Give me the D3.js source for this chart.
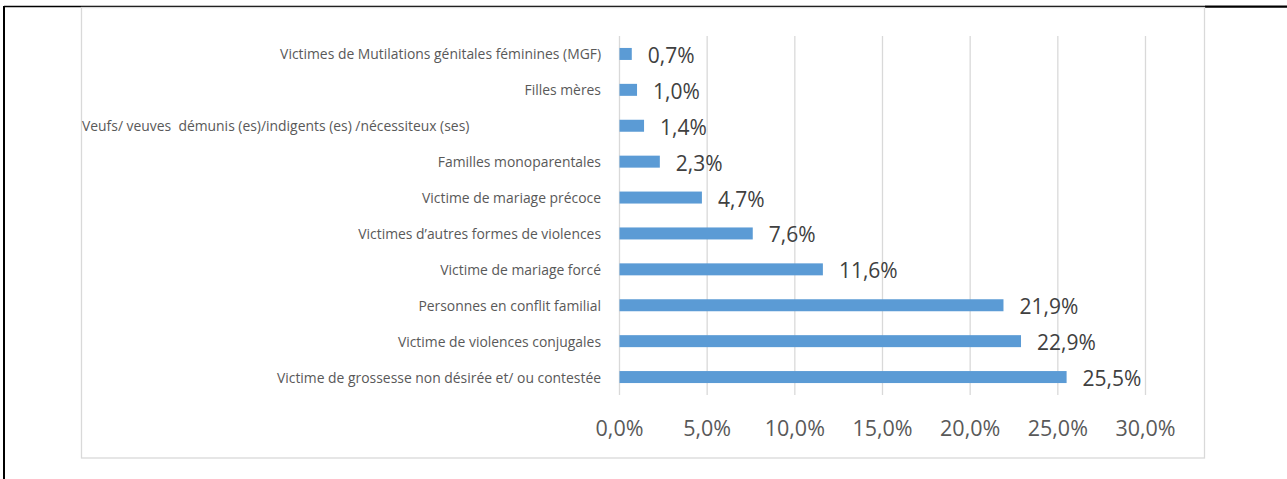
<!DOCTYPE html>
<html>
<head>
<meta charset="utf-8">
<script src="https://cdn.jsdelivr.net/npm/d3@7"></script>
<style>
  html, body { margin: 0; padding: 0; background: #fff; }
  svg { display: block; font-family: "Open Sans", "Liberation Sans", sans-serif; }
</style>
</head>
<body>
<div id="chart"></div>
<script>
// --- Data ---
const categories = [
  "Victimes de Mutilations génitales féminines (MGF)",
  "Filles mères",
  "Veufs/ veuves  démunis (es)/indigents (es) /nécessiteux (ses)",
  "Familles monoparentales",
  "Victime de mariage précoce",
  "Victimes d\u2019autres formes de violences",
  "Victime de mariage forcé",
  "Personnes en conflit familial",
  "Victime de violences conjugales",
  "Victime de grossesse non désirée et/ ou contestée"
];
const values = [0.007, 0.010, 0.014, 0.023, 0.047, 0.076, 0.116, 0.219, 0.229, 0.255];
const tickValues = [0, 0.05, 0.10, 0.15, 0.20, 0.25, 0.30];

const fmt = v => (v * 100).toFixed(1).replace(".", ",") + "%";

// --- Setup ---
const W = 1287, H = 479;
const svg = d3.select("#chart").append("svg").attr("width", W).attr("height", H);

// outer page frame (table cell lines)
svg.append("line").attr("x1", 4).attr("x2", 1205).attr("y1", 6.5).attr("y2", 6.5)
  .attr("stroke", "#000").attr("stroke-width", 1.3);
svg.append("line").attr("x1", 1205).attr("x2", W).attr("y1", 6.6).attr("y2", 6.6)
  .attr("stroke", "#000").attr("stroke-width", 2.4);
svg.append("line").attr("x1", 4).attr("x2", 4).attr("y1", 6).attr("y2", H)
  .attr("stroke", "#000").attr("stroke-width", 2);

// chart area box
const boxLeft = 81.5;
svg.append("rect").attr("x", boxLeft).attr("y", 7.5).attr("width", 1123).attr("height", 450.5)
  .attr("fill", "#fff").attr("stroke", "#d9d9d9").attr("stroke-width", 1.3);

const x = d3.scaleLinear().domain([0, 0.30]).range([619.5, 1145.5]);
const y = d3.scaleBand().domain(categories).range([36, 395]).paddingInner(0.666).paddingOuter(0.333);

// gridlines
svg.append("g").selectAll("line").data(tickValues).join("line")
  .attr("x1", d => x(d)).attr("x2", d => x(d))
  .attr("y1", 36).attr("y2", 395)
  .attr("stroke", "#d9d9d9").attr("stroke-width", 1.3);

// x tick labels
svg.append("g").selectAll("text").data(tickValues).join("text")
  .attr("x", d => x(d)).attr("y", 427)
  .attr("text-anchor", "middle").attr("dominant-baseline", "central")
  .attr("fill", "#595959").style("font-size", "21.5px")
  .text(fmt);

// bars
svg.append("g").selectAll("rect").data(values).join("rect")
  .attr("x", x(0)).attr("y", (d, i) => y(categories[i]))
  .attr("width", d => x(d) - x(0)).attr("height", y.bandwidth())
  .attr("fill", "#5b9bd5");

// value labels
svg.append("g").selectAll("text").data(values).join("text")
  .attr("x", d => x(d) + 16).attr("y", (d, i) => y(categories[i]) + y.bandwidth() / 2 + 1)
  .attr("dominant-baseline", "central")
  .attr("fill", "#404040").style("font-size", "21px")
  .text(fmt);

// category labels (an over-long label is flushed to the left edge of the chart box)
const labelRight = 601;
svg.append("g").selectAll("text").data(categories).join("text")
  .attr("x", labelRight).attr("y", d => y(d) + y.bandwidth() / 2)
  .attr("text-anchor", "end").attr("dominant-baseline", "central")
  .attr("fill", "#595959").style("font-size", "13.9px")
  .style("white-space", "pre")
  .text(d => d)
  .each(function() {
    if (this.getComputedTextLength() > 340) {
      d3.select(this).attr("text-anchor", "start").attr("x", boxLeft + 0.5);
    }
  });
</script>
</body>
</html>
